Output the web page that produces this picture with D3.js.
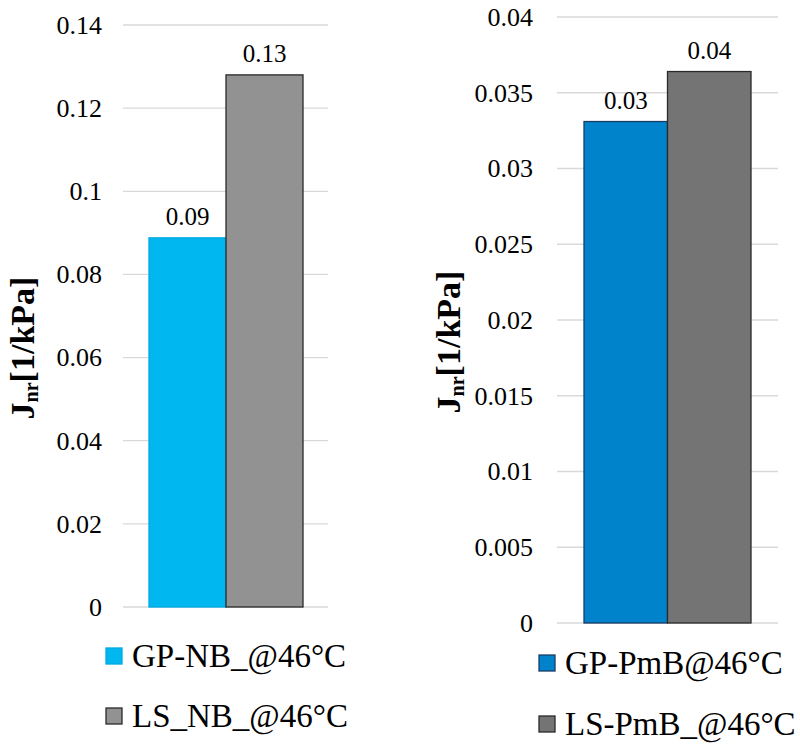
<!DOCTYPE html>
<html>
<head>
<meta charset="utf-8">
<script src="https://cdn.jsdelivr.net/npm/d3@7"></script>
<style>
  html, body { margin: 0; padding: 0; background: #fff; }
  svg { display: block; }
</style>
</head>
<body>
<svg id="chart" width="800" height="744"></svg>
<script>
// ---- data ----
const leftCategories = ["GP-NB_@46°C", "LS_NB_@46°C"];
const leftValues = [0.0888, 0.128];
const leftLabels = ["0.09", "0.13"];
const leftTicks = [0, 0.02, 0.04, 0.06, 0.08, 0.1, 0.12, 0.14];
const leftTickLabels = ["0", "0.02", "0.04", "0.06", "0.08", "0.1", "0.12", "0.14"];

const rightCategories = ["GP-PmB@46°C", "LS-PmB_@46°C"];
const rightValues = [0.0331, 0.0364];
const rightLabels = ["0.03", "0.04"];
const rightTicks = [0, 0.005, 0.01, 0.015, 0.02, 0.025, 0.03, 0.035, 0.04];
const rightTickLabels = ["0", "0.005", "0.01", "0.015", "0.02", "0.025", "0.03", "0.035", "0.04"];

const FONT = "'Liberation Serif', 'Times New Roman', Tinos, 'DejaVu Serif', serif";
const svg = d3.select("#chart");

function panel(cfg) {
  const g = svg.append("g");
  const y = d3.scaleLinear().domain(cfg.domain).range([cfg.y0, cfg.y1]);
  const x = d3.scaleBand().domain(cfg.categories).range(cfg.barRange).paddingInner(0).paddingOuter(0);

  // gridlines
  g.append("g").selectAll("line").data(cfg.ticks).join("line")
    .attr("x1", cfg.gridX[0]).attr("x2", cfg.gridX[1])
    .attr("y1", d => y(d)).attr("y2", d => y(d))
    .attr("stroke", "#d9d9d9").attr("stroke-width", 1.3);

  // axis (labels only)
  const axis = d3.axisLeft(y).tickValues(cfg.ticks)
    .tickFormat((d, i) => cfg.tickLabels[i]).tickSize(0).tickPadding(0);
  const ag = g.append("g").attr("transform", `translate(${cfg.labelX},0)`).call(axis);
  ag.select(".domain").remove();
  ag.selectAll("text").style("font-family", FONT).style("font-size", "26px").attr("fill", "#000");

  // bars
  g.append("g").selectAll("rect").data(cfg.values).join("rect")
    .attr("x", (d, i) => x(cfg.categories[i]))
    .attr("width", x.bandwidth())
    .attr("y", d => y(d))
    .attr("height", d => y(0) - y(d))
    .attr("fill", (d, i) => cfg.colors[i])
    .attr("stroke", (d, i) => cfg.strokes[i])
    .attr("stroke-width", 1.3);

  // value labels
  g.append("g").selectAll("text").data(cfg.values).join("text")
    .attr("x", (d, i) => x(cfg.categories[i]) + x.bandwidth() / 2)
    .attr("y", d => y(d) - 13)
    .attr("text-anchor", "middle")
    .style("font-family", FONT).style("font-size", "25px")
    .text((d, i) => cfg.valueLabels[i]);

  // y label
  const yl = g.append("text")
    .attr("transform", `translate(${cfg.ylabX},${cfg.ylabY}) rotate(-90)`)
    .attr("text-anchor", "middle")
    .style("font-family", FONT).style("font-size", "34px").style("font-weight", "bold");
  yl.append("tspan").text("J");
  yl.append("tspan").style("font-size", "20px").attr("dy", 4).text("nr");
  yl.append("tspan").attr("dy", -4).text("[1/kPa]");

  // legend
  const lg = g.append("g");
  cfg.categories.forEach((c, i) => {
    const by = cfg.legY[i];
    lg.append("rect").attr("x", cfg.legX).attr("y", by - 19).attr("width", 16).attr("height", 16)
      .attr("fill", cfg.colors[i]).attr("stroke", cfg.legStrokes[i]).attr("stroke-width", 1.3);
    lg.append("text").attr("x", cfg.legX + 26).attr("y", by)
      .style("font-family", FONT).style("font-size", "33px").text(c);
  });
}

panel({
  categories: leftCategories, values: leftValues, valueLabels: leftLabels,
  ticks: leftTicks, tickLabels: leftTickLabels,
  domain: [0, 0.14], y0: 607, y1: 25,
  barRange: [149, 303], gridX: [123, 328], labelX: 102,
  colors: ["#00b7ef", "#929292"], strokes: ["#00a8e0", "#2a2a2a"], legStrokes: ["#00a8e0", "#2a2a2a"],
  ylabX: 34, ylabY: 348,
  legX: 106, legY: [667, 727]
});

panel({
  categories: rightCategories, values: rightValues, valueLabels: rightLabels,
  ticks: rightTicks, tickLabels: rightTickLabels,
  domain: [0, 0.04], y0: 623, y1: 17,
  barRange: [584, 751], gridX: [557, 778], labelX: 533,
  colors: ["#0083ca", "#747474"], strokes: ["#1a3d66", "#2a2a2a"], legStrokes: ["#1a3d66", "#2a2a2a"],
  ylabX: 460, ylabY: 342,
  legX: 539, legY: [674, 735]
});
</script>
</body>
</html>
